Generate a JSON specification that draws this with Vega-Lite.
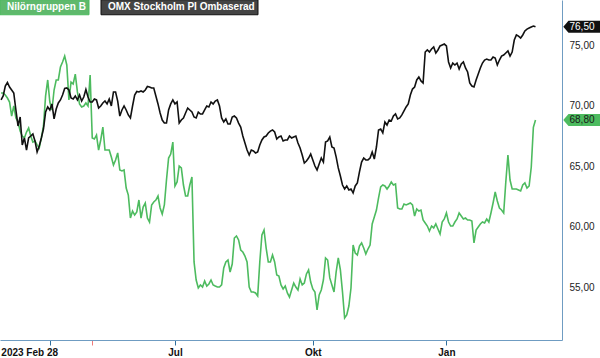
{
"$schema":"https://vega.github.io/schema/vega-lite/v6.json",
"width":562,"height":340,"padding":{"left":0,"top":0,"right":38,"bottom":18},"autosize":{"type":"none"},
"background":"white",
"config":{"view":{"stroke":null},"locale":{"number":{"decimal":",","thousands":" ","grouping":[3],"currency":["",""]}}},
"data":{"values":[
{"d":"2023-03-01","n":71.03,"o":70.46},{"d":"2023-03-02","n":71.03,"o":70.79},{"d":"2023-03-03","n":70.87,"o":71.61},{"d":"2023-03-06","n":70.62,"o":71.90},{"d":"2023-03-07","n":70.29,"o":71.53},{"d":"2023-03-08","n":69.13,"o":71.28},{"d":"2023-03-09","n":69.96,"o":71.03},{"d":"2023-03-10","n":68.97,"o":69.63},{"d":"2023-03-13","n":68.64,"o":68.31},{"d":"2023-03-14","n":67.89,"o":69.05},{"d":"2023-03-15","n":67.48,"o":66.74},{"d":"2023-03-16","n":67.32,"o":67.32},{"d":"2023-03-17","n":67.81,"o":66.32},{"d":"2023-03-20","n":68.14,"o":67.32},{"d":"2023-03-21","n":67.48,"o":67.48},{"d":"2023-03-22","n":66.98,"o":67.65},{"d":"2023-03-23","n":67.07,"o":67.07},{"d":"2023-03-24","n":66.74,"o":66.16},{"d":"2023-03-27","n":66.49,"o":66.65},{"d":"2023-03-28","n":67.32,"o":67.32},{"d":"2023-03-29","n":68.31,"o":68.06},{"d":"2023-03-30","n":70.79,"o":69.46},{"d":"2023-03-31","n":72.11,"o":69.88},
{"d":"2023-04-03","n":70.29,"o":69.63},{"d":"2023-04-04","n":69.63,"o":70.13},{"d":"2023-04-05","n":71.28,"o":68.89},{"d":"2023-04-06","n":72.11,"o":69.71},{"d":"2023-04-11","n":72.11,"o":70.21},{"d":"2023-04-12","n":73.18,"o":70.46},{"d":"2023-04-13","n":73.60,"o":70.87},{"d":"2023-04-14","n":74.09,"o":71.41},{"d":"2023-04-17","n":73.35,"o":71.45},{"d":"2023-04-18","n":70.46,"o":71.28},{"d":"2023-04-19","n":71.94,"o":70.62},{"d":"2023-04-20","n":71.78,"o":70.54},{"d":"2023-04-21","n":72.60,"o":70.79},{"d":"2023-04-24","n":71.12,"o":70.46},{"d":"2023-04-25","n":70.13,"o":70.87},{"d":"2023-04-26","n":69.88,"o":70.37},{"d":"2023-04-27","n":69.96,"o":70.70},{"d":"2023-04-28","n":70.21,"o":71.32},
{"d":"2023-05-02","n":69.96,"o":70.70},{"d":"2023-05-03","n":72.52,"o":70.29},{"d":"2023-05-04","n":67.32,"o":70.29},{"d":"2023-05-05","n":67.23,"o":70.54},{"d":"2023-05-08","n":67.56,"o":70.46},{"d":"2023-05-09","n":66.32,"o":69.79},{"d":"2023-05-10","n":67.15,"o":69.96},{"d":"2023-05-11","n":68.22,"o":70.21},{"d":"2023-05-12","n":66.32,"o":70.37},{"d":"2023-05-15","n":66.32,"o":70.13},{"d":"2023-05-16","n":66.32,"o":70.54},{"d":"2023-05-17","n":65.75,"o":69.96},{"d":"2023-05-19","n":65.08,"o":71.12},{"d":"2023-05-22","n":65.50,"o":71.12},{"d":"2023-05-23","n":66.08,"o":70.37},{"d":"2023-05-24","n":64.67,"o":69.13},{"d":"2023-05-25","n":64.59,"o":69.63},{"d":"2023-05-26","n":64.67,"o":69.96},{"d":"2023-05-29","n":63.18,"o":69.63},{"d":"2023-05-30","n":62.60,"o":69.22},{"d":"2023-05-31","n":60.70,"o":68.97},
{"d":"2023-06-01","n":61.28,"o":69.96},{"d":"2023-06-02","n":60.95,"o":70.87},{"d":"2023-06-05","n":61.20,"o":71.16},{"d":"2023-06-07","n":62.19,"o":71.12},{"d":"2023-06-08","n":60.70,"o":71.20},{"d":"2023-06-09","n":61.61,"o":71.12},{"d":"2023-06-12","n":61.94,"o":71.28},{"d":"2023-06-13","n":60.70,"o":71.57},{"d":"2023-06-14","n":60.37,"o":71.53},{"d":"2023-06-15","n":61.78,"o":71.45},{"d":"2023-06-16","n":62.03,"o":71.45},{"d":"2023-06-19","n":62.19,"o":70.79},{"d":"2023-06-20","n":62.52,"o":70.13},{"d":"2023-06-21","n":61.53,"o":69.38},{"d":"2023-06-22","n":61.03,"o":68.80},{"d":"2023-06-26","n":61.78,"o":68.55},{"d":"2023-06-27","n":63.84,"o":68.55},{"d":"2023-06-28","n":65.66,"o":69.63},{"d":"2023-06-29","n":65.99,"o":70.13},{"d":"2023-06-30","n":66.98,"o":70.46},
{"d":"2023-07-03","n":63.35,"o":70.13},{"d":"2023-07-04","n":63.68,"o":70.29},{"d":"2023-07-05","n":65.00,"o":68.55},{"d":"2023-07-06","n":64.84,"o":68.80},{"d":"2023-07-07","n":63.43,"o":68.97},{"d":"2023-07-10","n":62.52,"o":69.38},{"d":"2023-07-11","n":62.52,"o":69.79},{"d":"2023-07-12","n":63.43,"o":69.63},{"d":"2023-07-13","n":64.09,"o":69.46},{"d":"2023-07-14","n":57.07,"o":69.05},{"d":"2023-07-17","n":55.58,"o":68.97},{"d":"2023-07-18","n":54.92,"o":69.46},{"d":"2023-07-19","n":55.17,"o":69.30},{"d":"2023-07-20","n":55.00,"o":69.30},{"d":"2023-07-21","n":55.50,"o":69.63},{"d":"2023-07-24","n":55.08,"o":69.96},{"d":"2023-07-25","n":55.25,"o":69.88},{"d":"2023-07-26","n":55.58,"o":70.29},{"d":"2023-07-27","n":55.17,"o":70.13},{"d":"2023-07-28","n":55.08,"o":70.37},{"d":"2023-07-31","n":55.00,"o":70.46},
{"d":"2023-08-01","n":55.00,"o":69.96},{"d":"2023-08-02","n":55.17,"o":68.97},{"d":"2023-08-03","n":56.57,"o":68.64},{"d":"2023-08-04","n":57.07,"o":68.89},{"d":"2023-08-07","n":57.23,"o":68.47},{"d":"2023-08-08","n":56.24,"o":68.47},{"d":"2023-08-09","n":56.90,"o":69.05},{"d":"2023-08-10","n":59.05,"o":69.13},{"d":"2023-08-11","n":59.22,"o":68.97},{"d":"2023-08-14","n":58.89,"o":68.55},{"d":"2023-08-15","n":58.06,"o":68.22},{"d":"2023-08-16","n":57.89,"o":67.48},{"d":"2023-08-17","n":57.56,"o":66.90},{"d":"2023-08-18","n":57.07,"o":66.32},{"d":"2023-08-21","n":55.00,"o":65.91},{"d":"2023-08-22","n":54.59,"o":66.32},{"d":"2023-08-23","n":54.59,"o":66.24},{"d":"2023-08-24","n":54.51,"o":66.08},{"d":"2023-08-25","n":54.26,"o":66.16},{"d":"2023-08-28","n":57.07,"o":66.74},{"d":"2023-08-29","n":59.30,"o":67.15},{"d":"2023-08-30","n":59.71,"o":67.40},{"d":"2023-08-31","n":58.22,"o":67.48},
{"d":"2023-09-01","n":57.07,"o":67.73},{"d":"2023-09-04","n":57.07,"o":67.89},{"d":"2023-09-05","n":57.65,"o":67.98},{"d":"2023-09-06","n":57.07,"o":67.81},{"d":"2023-09-07","n":55.99,"o":67.23},{"d":"2023-09-08","n":55.91,"o":67.40},{"d":"2023-09-11","n":55.17,"o":67.48},{"d":"2023-09-12","n":54.84,"o":67.07},{"d":"2023-09-13","n":55.08,"o":67.15},{"d":"2023-09-14","n":54.51,"o":67.15},{"d":"2023-09-15","n":54.17,"o":67.48},{"d":"2023-09-18","n":54.75,"o":67.32},{"d":"2023-09-19","n":55.33,"o":67.40},{"d":"2023-09-20","n":55.00,"o":67.48},{"d":"2023-09-21","n":54.75,"o":66.90},{"d":"2023-09-22","n":55.66,"o":66.49},{"d":"2023-09-25","n":55.17,"o":65.91},{"d":"2023-09-26","n":55.33,"o":65.25},{"d":"2023-09-27","n":56.08,"o":65.41},{"d":"2023-09-28","n":56.41,"o":65.66},{"d":"2023-09-29","n":55.41,"o":65.99},
{"d":"2023-10-02","n":54.84,"o":65.50},{"d":"2023-10-03","n":54.59,"o":65.00},{"d":"2023-10-04","n":53.10,"o":64.67},{"d":"2023-10-05","n":54.34,"o":65.17},{"d":"2023-10-06","n":54.75,"o":65.66},{"d":"2023-10-09","n":55.58,"o":65.33},{"d":"2023-10-10","n":57.40,"o":66.98},{"d":"2023-10-11","n":57.23,"o":67.07},{"d":"2023-10-12","n":55.75,"o":67.40},{"d":"2023-10-13","n":55.17,"o":66.57},{"d":"2023-10-16","n":54.59,"o":66.49},{"d":"2023-10-17","n":56.24,"o":65.75},{"d":"2023-10-18","n":57.40,"o":64.84},{"d":"2023-10-19","n":56.41,"o":64.17},{"d":"2023-10-20","n":54.59,"o":63.43},{"d":"2023-10-23","n":52.44,"o":63.10},{"d":"2023-10-24","n":52.69,"o":63.35},{"d":"2023-10-25","n":53.43,"o":63.02},{"d":"2023-10-26","n":54.92,"o":63.10},{"d":"2023-10-27","n":58.47,"o":62.77},{"d":"2023-10-30","n":57.81,"o":63.35},{"d":"2023-10-31","n":57.65,"o":63.60},
{"d":"2023-11-01","n":58.39,"o":64.51},{"d":"2023-11-02","n":58.64,"o":65.33},{"d":"2023-11-03","n":58.22,"o":65.66},{"d":"2023-11-06","n":57.73,"o":65.50},{"d":"2023-11-07","n":58.14,"o":65.50},{"d":"2023-11-08","n":58.47,"o":65.66},{"d":"2023-11-09","n":60.21,"o":66.16},{"d":"2023-11-10","n":60.79,"o":65.58},{"d":"2023-11-13","n":61.36,"o":66.57},{"d":"2023-11-14","n":62.36,"o":67.98},{"d":"2023-11-15","n":63.27,"o":68.06},{"d":"2023-11-16","n":63.43,"o":67.73},{"d":"2023-11-17","n":63.35,"o":68.64},{"d":"2023-11-20","n":63.10,"o":68.39},{"d":"2023-11-21","n":63.35,"o":68.80},{"d":"2023-11-22","n":63.68,"o":68.72},{"d":"2023-11-23","n":63.43,"o":69.13},{"d":"2023-11-24","n":63.51,"o":69.30},{"d":"2023-11-27","n":61.53,"o":68.89},{"d":"2023-11-28","n":61.45,"o":68.97},{"d":"2023-11-29","n":61.45,"o":69.22},{"d":"2023-11-30","n":61.86,"o":69.55},
{"d":"2023-12-01","n":61.78,"o":69.88},{"d":"2023-12-04","n":61.86,"o":70.13},{"d":"2023-12-05","n":61.94,"o":70.87},{"d":"2023-12-06","n":61.78,"o":71.36},{"d":"2023-12-07","n":60.87,"o":71.53},{"d":"2023-12-08","n":61.45,"o":72.11},{"d":"2023-12-11","n":61.28,"o":72.36},{"d":"2023-12-12","n":61.36,"o":72.03},{"d":"2023-12-13","n":60.54,"o":71.86},{"d":"2023-12-14","n":60.29,"o":74.42},{"d":"2023-12-15","n":60.04,"o":74.59},{"d":"2023-12-18","n":59.63,"o":74.42},{"d":"2023-12-19","n":60.04,"o":74.67},{"d":"2023-12-20","n":59.88,"o":74.84},{"d":"2023-12-21","n":60.21,"o":74.34},{"d":"2023-12-22","n":59.79,"o":74.59},{"d":"2023-12-27","n":59.38,"o":74.92},{"d":"2023-12-28","n":60.37,"o":75.00},{"d":"2023-12-29","n":60.62,"o":75.08},
{"d":"2024-01-02","n":61.12,"o":74.92},{"d":"2024-01-03","n":60.37,"o":73.60},{"d":"2024-01-04","n":60.04,"o":73.10},{"d":"2024-01-05","n":60.04,"o":73.51},{"d":"2024-01-08","n":60.37,"o":73.35},{"d":"2024-01-09","n":60.62,"o":73.51},{"d":"2024-01-10","n":61.12,"o":73.02},{"d":"2024-01-11","n":60.87,"o":73.43},{"d":"2024-01-12","n":60.62,"o":73.60},{"d":"2024-01-15","n":60.70,"o":73.10},{"d":"2024-01-16","n":60.54,"o":72.77},{"d":"2024-01-17","n":60.54,"o":71.86},{"d":"2024-01-18","n":60.46,"o":71.61},{"d":"2024-01-19","n":58.64,"o":71.53},{"d":"2024-01-22","n":59.71,"o":72.11},{"d":"2024-01-23","n":59.96,"o":72.60},{"d":"2024-01-24","n":60.21,"o":73.10},{"d":"2024-01-25","n":60.37,"o":73.51},{"d":"2024-01-26","n":60.29,"o":73.76},{"d":"2024-01-29","n":60.62,"o":73.84},{"d":"2024-01-30","n":60.37,"o":73.76},{"d":"2024-01-31","n":61.12,"o":73.76},
{"d":"2024-02-01","n":61.94,"o":74.01},{"d":"2024-02-02","n":62.85,"o":73.93},{"d":"2024-02-05","n":62.11,"o":73.35},{"d":"2024-02-06","n":61.53,"o":73.76},{"d":"2024-02-07","n":61.36,"o":74.09},{"d":"2024-02-08","n":61.12,"o":74.17},{"d":"2024-02-09","n":63.68,"o":74.34},{"d":"2024-02-12","n":65.91,"o":74.51},{"d":"2024-02-13","n":63.84,"o":74.09},{"d":"2024-02-14","n":63.10,"o":74.42},{"d":"2024-02-15","n":63.10,"o":75.41},{"d":"2024-02-16","n":63.10,"o":75.83},{"d":"2024-02-19","n":63.02,"o":75.74},{"d":"2024-02-20","n":62.94,"o":75.58},{"d":"2024-02-21","n":63.43,"o":75.83},{"d":"2024-02-22","n":63.60,"o":76.16},{"d":"2024-02-23","n":63.18,"o":76.32},{"d":"2024-02-26","n":63.35,"o":76.41},{"d":"2024-02-27","n":64.90,"o":76.49},{"d":"2024-02-28","n":68.20,"o":76.57},{"d":"2024-02-29","n":68.80,"o":76.50}
]},
"transform":[{"fold":["n","o"],"as":["s","v"]}],
"encoding":{
  "x":{"field":"d","type":"ordinal",
    "scale":{"type":"point","domain":["2023-03-01","2023-03-02","2023-03-03","2023-03-06","2023-03-07","2023-03-08","2023-03-09","2023-03-10","2023-03-13","2023-03-14","2023-03-15","2023-03-16","2023-03-17","2023-03-20","2023-03-21","2023-03-22","2023-03-23","2023-03-24","2023-03-27","2023-03-28","2023-03-29","2023-03-30","2023-03-31","2023-04-03","2023-04-04","2023-04-05","2023-04-06","2023-04-11","2023-04-12","2023-04-13","2023-04-14","2023-04-17","2023-04-18","2023-04-19","2023-04-20","2023-04-21","2023-04-24","2023-04-25","2023-04-26","2023-04-27","2023-04-28","2023-05-02","2023-05-03","2023-05-04","2023-05-05","2023-05-08","2023-05-09","2023-05-10","2023-05-11","2023-05-12","2023-05-15","2023-05-16","2023-05-17","2023-05-19","2023-05-22","2023-05-23","2023-05-24","2023-05-25","2023-05-26","2023-05-29","2023-05-30","2023-05-31","2023-06-01","2023-06-02","2023-06-05","2023-06-07","2023-06-08","2023-06-09","2023-06-12","2023-06-13","2023-06-14","2023-06-15","2023-06-16","2023-06-19","2023-06-20","2023-06-21","2023-06-22","2023-06-26","2023-06-27","2023-06-28","2023-06-29","2023-06-30","2023-07-03","2023-07-04","2023-07-05","2023-07-06","2023-07-07","2023-07-10","2023-07-11","2023-07-12","2023-07-13","2023-07-14","2023-07-17","2023-07-18","2023-07-19","2023-07-20","2023-07-21","2023-07-24","2023-07-25","2023-07-26","2023-07-27","2023-07-28","2023-07-31","2023-08-01","2023-08-02","2023-08-03","2023-08-04","2023-08-07","2023-08-08","2023-08-09","2023-08-10","2023-08-11","2023-08-14","2023-08-15","2023-08-16","2023-08-17","2023-08-18","2023-08-21","2023-08-22","2023-08-23","2023-08-24","2023-08-25","2023-08-28","2023-08-29","2023-08-30","2023-08-31","2023-09-01","2023-09-04","2023-09-05","2023-09-06","2023-09-07","2023-09-08","2023-09-11","2023-09-12","2023-09-13","2023-09-14","2023-09-15","2023-09-18","2023-09-19","2023-09-20","2023-09-21","2023-09-22","2023-09-25","2023-09-26","2023-09-27","2023-09-28","2023-09-29","2023-10-02","2023-10-03","2023-10-04","2023-10-05","2023-10-06","2023-10-09","2023-10-10","2023-10-11","2023-10-12","2023-10-13","2023-10-16","2023-10-17","2023-10-18","2023-10-19","2023-10-20","2023-10-23","2023-10-24","2023-10-25","2023-10-26","2023-10-27","2023-10-30","2023-10-31","2023-11-01","2023-11-02","2023-11-03","2023-11-06","2023-11-07","2023-11-08","2023-11-09","2023-11-10","2023-11-13","2023-11-14","2023-11-15","2023-11-16","2023-11-17","2023-11-20","2023-11-21","2023-11-22","2023-11-23","2023-11-24","2023-11-27","2023-11-28","2023-11-29","2023-11-30","2023-12-01","2023-12-04","2023-12-05","2023-12-06","2023-12-07","2023-12-08","2023-12-11","2023-12-12","2023-12-13","2023-12-14","2023-12-15","2023-12-18","2023-12-19","2023-12-20","2023-12-21","2023-12-22","2023-12-27","2023-12-28","2023-12-29","2024-01-02","2024-01-03","2024-01-04","2024-01-05","2024-01-08","2024-01-09","2024-01-10","2024-01-11","2024-01-12","2024-01-15","2024-01-16","2024-01-17","2024-01-18","2024-01-19","2024-01-22","2024-01-23","2024-01-24","2024-01-25","2024-01-26","2024-01-29","2024-01-30","2024-01-31","2024-02-01","2024-02-02","2024-02-05","2024-02-06","2024-02-07","2024-02-08","2024-02-09","2024-02-12","2024-02-13","2024-02-14","2024-02-15","2024-02-16","2024-02-19","2024-02-20","2024-02-21","2024-02-22","2024-02-23","2024-02-26","2024-02-27","2024-02-28","2024-02-29","2024-03-01","2024-03-04","2024-03-05","2024-03-06","2024-03-07","2024-03-08","2024-03-11","2024-03-12","2024-03-13","2024-03-14","2024-03-15","2024-03-18"]},
    "axis":{"title":null,"orient":"bottom","grid":false,"values":["2023-04-03","2023-05-04","2023-07-03","2023-10-02","2024-01-02"],
      "labelExpr":"datum.value == '2023-04-03' ? '2023 Feb 28' : datum.value == '2023-07-03' ? 'Jul' : datum.value == '2023-10-02' ? 'Okt' : datum.value == '2024-01-02' ? 'Jan' : ''",
      "labelOverlap":false,"labelBound":false,"labelFlush":false,"labelAngle":0,
      "labelAlign":{"condition":{"test":"datum.value == '2023-04-03'","value":"left"},"value":"center"},
      "labelOffset":{"condition":{"test":"datum.value == '2023-04-03'","value":-49},"value":0},
      "labelFont":"Liberation Sans","labelFontSize":10,"labelFontWeight":"bold","labelColor":"#111111","labelPadding":2,
      "ticks":true,"tickSize":5,"tickWidth":1,
      "tickColor":{"condition":{"test":"datum.value == '2023-05-04'","value":"#f07a7a"},"value":"#2f6f9e"},
      "domain":true,"domainColor":"#6f9cc2","domainWidth":1}},
  "y":{"field":"v","type":"quantitative","scale":{"domain":[50.62,78.72],"nice":false,"zero":false},
    "axis":{"title":null,"orient":"right","grid":false,"ticks":false,"values":[55,60,65,70,75],"format":".2f",
      "labelFont":"Liberation Sans","labelFontSize":10,"labelColor":"#222222","labelPadding":7,
      "domain":true,"domainColor":"#6f9cc2","domainWidth":1}}
},
"layer":[
  {"mark":{"type":"line","strokeWidth":1.6,"interpolate":"linear"},
   "encoding":{"color":{"field":"s","type":"nominal",
     "scale":{"domain":["n","o"],"range":["#4dbb5f","#111111"]},
     "legend":{"title":null,"orient":"none","legendX":0,"legendY":2,"direction":"horizontal","padding":0,"columnPadding":8,
       "labelExpr":"datum.value == 'n' ? 'Nilörngruppen B' : 'OMX Stockholm PI Ombaserad'",
       "labelColor":"white","labelFont":"Liberation Sans","labelFontSize":10,"labelFontWeight":"bold","labelOffset":-3,
       "symbolSize":4,"symbolStrokeWidth":1,
       "encode":{"symbols":{"update":{
         "shape":{"signal":"datum.value == 'n' ? 'M-5,-7.5H84V7.5H-5Z' : 'M-5,-7.5H152V7.5H-5Z'"},
         "fill":{"signal":"datum.value == 'n' ? '#5fb96c' : '#444444'"},
         "stroke":{"signal":"datum.value == 'n' ? '#94d29e' : '#6a6a6a'"},
         "strokeWidth":{"value":1},
         "size":{"value":4},
         "opacity":{"value":1}
       }}}}}}},
  {"transform":[{"filter":"datum.d == '2024-02-29'"}],
   "mark":{"type":"point","shape":"M27.8,0L33,-6H64.5V6H33Z","size":4,"filled":true,"opacity":1,"strokeWidth":0},
   "encoding":{"color":{"condition":{"test":"datum.s == 'o'","value":"#111111"},"value":"#4dbb5f"}}},
  {"transform":[{"filter":"datum.d == '2024-02-29'"}],
   "mark":{"type":"text","align":"left","baseline":"middle","dx":34,"font":"Liberation Sans","fontSize":10},
   "encoding":{"text":{"field":"v","type":"quantitative","format":".2f"},
     "color":{"condition":{"test":"datum.s == 'o'","value":"#ffffff"},"value":"#1a1a1a"}}}
]
}
